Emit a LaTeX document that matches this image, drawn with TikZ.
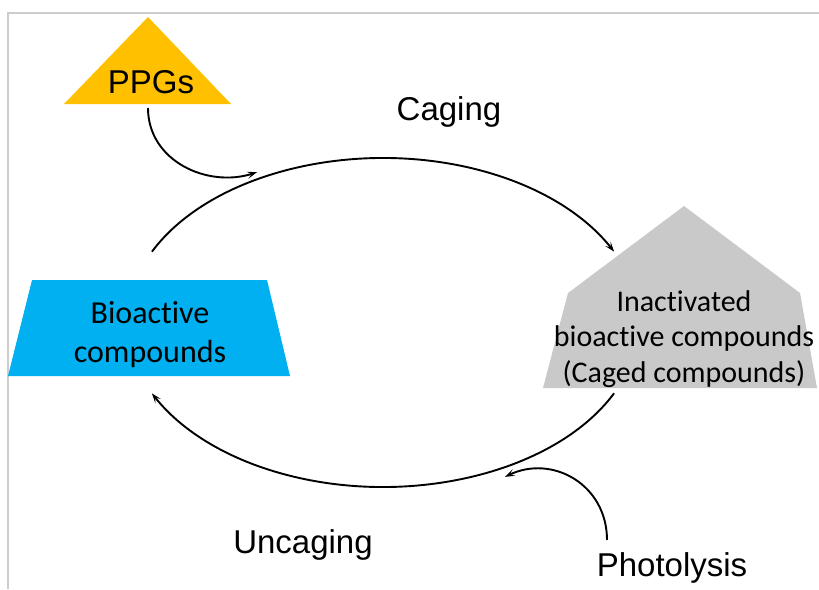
\documentclass[tikz,border=0pt]{standalone}
\usepackage{fontspec}
\setmainfont{Liberation Sans}
\newfontfamily\calibri[Ligatures=NoCommon]{Carlito}
\usepackage{xcolor}
\usetikzlibrary{arrows.meta,bending}
\definecolor{ppgyellow}{HTML}{FFC000}
\definecolor{bioblue}{HTML}{00B0F0}
\definecolor{cagegray}{HTML}{C9C9C9}
\definecolor{framegray}{HTML}{CDCDCD}
\tikzset{
  flow/.style={line width=1.9pt, -{Stealth[length=10pt,width=7pt,inset=4.5pt,bend]}},
  cyclabel/.style={anchor=base, inner sep=0pt, font=\fontsize{33}{40}\selectfont},
  boxtext/.style 2 args={align=center, inner sep=0pt, font=\calibri\fontsize{#1}{#2}\selectfont},
}

\begin{document}
\begin{tikzpicture}[x=1pt,y=-1pt]
    \useasboundingbox (0,0) rectangle (819,589);
    %Frame
    \draw[framegray, line width=1.5pt] (8,589) -- (8,13) -- (819,13);
    %Shapes
    \fill[ppgyellow] (64,104) -- (148,17) -- (231,104) -- cycle;
    \fill[bioblue] (32,280) -- (267,280) -- (290,376) -- (8,376) -- cycle;
    \fill[cagegray] (684,206) -- (800,293) -- (817,388) -- (543,388) -- (568,293) -- cycle;
    %Shape texts
    \node[cyclabel] (ppg) at (151,93) {PPGs};
    \node[boxtext={32}{39}] (bio) at (150,335) {Bioactive\\compounds};
    \node[boxtext={30}{35.5}] (caged) at (684,339) {Inactivated\\bioactive compounds\\(Caged compounds)};
    %Step labels
    \node[cyclabel] (caging) at (449,120) {Caging};
    \node[cyclabel] (uncaging) at (303,553) {Uncaging};
    \node[cyclabel] (photo) at (672,576) {Photolysis};
    %Cycle end points
    \coordinate (cyc) at (383,322.5);
    \path (cyc) ++(-154.5:256 and 164.5) coordinate (bioout);
    \path (cyc) ++(25.5:256 and 164.5) coordinate (cagedout);
    %Caging and uncaging arcs
    \draw[flow] (bioout) arc[start angle=-154.5, end angle=-25.5, x radius=256, y radius=164.5];
    \draw[flow] (cagedout) arc[start angle=25.5, end angle=154.5, x radius=256, y radius=164.5];
    %Side arrows
    \coordinate (ppgfoot) at (148,108);
    \coordinate (ppgin) at (257,172);
    \coordinate (photofoot) at (607,540);
    \coordinate (photoin) at (505,477);
    \draw[flow] (ppgfoot) .. controls +(0,55) and +(-45,18) .. (ppgin);
    \draw[flow] (photofoot) .. controls +(0,-57) and +(44,-25) .. (photoin);
\end{tikzpicture}
\end{document}
